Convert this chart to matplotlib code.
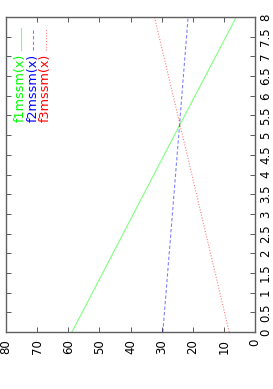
import matplotlib
matplotlib.use("Agg")
import matplotlib.pyplot as plt
from matplotlib.lines import Line2D

plt.rcParams['font.family'] = ['DejaVu Sans']

# data (x on vertical axis, function value on horizontal axis)
x_vals = [0, 5.3, 8]
f1 = [58.8, 23.9, 6.0]
f2 = [29.6, 24.2, 21.5]
f3 = [8.3, 24.2, 32.3]
names = ['f1mssm(x)', 'f2mssm(x)', 'f3mssm(x)']
colors = ['#00ff00', '#0000ff', '#ff0000']
styles = ['-', (0, (3, 2)), (0, (1, 1.5))]
val_ticks = [0, 10, 20, 30, 40, 50, 60, 70, 80]
x_ticks = [0, 0.5, 1, 1.5, 2, 2.5, 3, 3.5, 4, 4.5, 5, 5.5, 6, 6.5, 7, 7.5, 8]

W, H = 273, 389
fig = plt.figure(figsize=(W/100, H/100), dpi=100)
L, R, T, B = 6, 255, 17, 332
ax = fig.add_axes([L/W, 1-B/H, (R-L)/W, (B-T)/H])

for ys, c, ls in zip([f1, f2, f3], colors, styles):
    ax.plot(ys, x_vals, color=c, lw=0.8, ls=ls, alpha=0.5)

ax.set_xlim(80, 0)
ax.set_ylim(0, 8)
ax.set_xticks(val_ticks)
ax.set_xticklabels([str(v) for v in val_ticks], rotation=90, fontsize=8.5)
ax.set_yticks(x_ticks)
ax.set_yticklabels(['%g' % v for v in x_ticks], rotation=90, fontsize=8.5, va='center')
ax.yaxis.tick_right()
ax.tick_params(axis='both', direction='in', length=3.5, width=0.6, color='#404040',
               top=True, bottom=True, left=True, right=True)
ax.tick_params(axis='x', pad=5)
ax.tick_params(axis='y', labelleft=False, labelright=True, pad=3)
for s in ax.spines.values():
    s.set_color('#606060')
    s.set_linewidth(1.0)

# key
key_x = [20.5, 33.0, 45.5]
for name, c, ls, kx in zip(names, colors, styles, key_x):
    fig.text(kx/W, 1-54/H, name, rotation=90, ha='center', va='top', color=c, fontsize=9.2)
    fig.add_artist(Line2D([kx/W, kx/W], [1-50/H, 1-28/H], color=c, ls=ls, lw=0.8, alpha=0.5))

fig.savefig('out.png', dpi=100)
